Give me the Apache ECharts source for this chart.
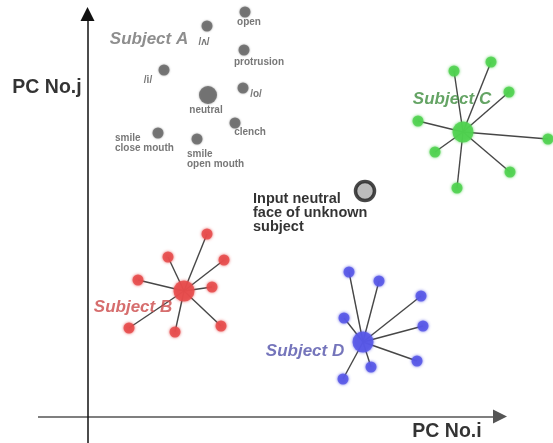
<!DOCTYPE html>
<html>
<head>
<meta charset="utf-8">
<script src="https://cdn.jsdelivr.net/npm/echarts@6/dist/echarts.min.js"></script>
<style>html,body{margin:0;padding:0;background:#fff}#c{width:553px;height:443px}</style>
</head>
<body>
<div id="c"></div>
<script>
// ---- data (picture coordinates) ----
const axisI = [[38, 416.5], [500, 416.5]];
const axisJ = [[87.5, 443], [87.5, 14]];

const subjectAPoints = [[245, 12], [207, 26], [244, 50], [164, 70], [243, 88], [235, 123], [158, 133], [197, 139]];
const subjectANeutral = [208, 95];
const subjectALabels = ['open', '/ʌ/', 'protrusion', '/i/', '/o/', 'neutral', 'clench', 'smile\nclose mouth', 'smile\nopen mouth'];
const subjectALabelPos = [[249, 22], [204, 42], [259, 62], [148, 80], [256, 94], [206, 110], [250, 132], [115, 143], [187, 159]];

const centerB = [184, 291];
const satB = [[207, 234], [168, 257], [224, 260], [138, 280], [212, 287], [129, 328], [175, 332], [221, 326]];
const centerC = [463, 132];
const satC = [[454, 71], [491, 62], [509, 92], [418, 121], [548, 139], [435, 152], [510, 172], [457, 188]];
const centerD = [363, 342];
const satD = [[349, 272], [379, 281], [421, 296], [344, 318], [423, 326], [417, 361], [371, 367], [343, 379]];

const subjectNames = ['Subject A', 'Subject B', 'Subject C', 'Subject D'];
const subjectNamePos = [[149, 39], [133, 307], [452, 99], [305, 351]];

const inputPoint = [365, 191];
const inputText = 'Input neutral\nface of unknown\nsubject';
const inputTextPos = [253, 213];

const axisTitles = ['PC No.j', 'PC No.i'];
const axisTitlePos = [[47, 88], [447, 432]];

// ---- chart ----
const FONT = '"Liberation Sans", Arial, Helvetica, sans-serif';
function spokes(c, sats) { return sats.map(s => ({ coords: [c, s] })); }
function cluster(c, sats, color) {
  return [
    { type: 'scatter', data: sats, symbolSize: 11, silent: true,
      itemStyle: { color: color, opacity: 0.85, shadowBlur: 3, shadowColor: color } },
    { type: 'scatter', data: [c], symbolSize: 21, silent: true,
      itemStyle: { color: color, opacity: 0.85, shadowBlur: 3, shadowColor: color } }
  ];
}
const subjectColors = ['#727272', '#cc4a4a', '#3f8d3f', '#5252aa'];

const chart = echarts.init(document.getElementById('c'), null, { renderer: 'canvas' });
chart.setOption({
  animation: false,
  backgroundColor: '#fff',
  grid: { left: 0, right: 0, top: 0, bottom: 0 },
  xAxis: { type: 'value', min: 0, max: 553, show: false },
  yAxis: { type: 'value', min: 0, max: 443, inverse: true, show: false },
  series: [
    ...cluster(centerB, satB, '#e64b4b'),
    ...cluster(centerC, satC, '#4fd14f'),
    ...cluster(centerD, satD, '#5757e6'),
    { type: 'lines', coordinateSystem: 'cartesian2d', silent: true,
      data: [...spokes(centerB, satB), ...spokes(centerC, satC), ...spokes(centerD, satD)],
      lineStyle: { color: '#333', width: 1.4, opacity: 0.9 } },
    { type: 'lines', coordinateSystem: 'cartesian2d', silent: true,
      symbol: ['none', 'triangle'], symbolSize: [9, 14],
      data: [{ coords: axisI, lineStyle: { color: '#555' } }, { coords: axisJ, lineStyle: { color: '#111' } }],
      lineStyle: { width: 1.5, opacity: 1 }, itemStyle: {} },
    { type: 'scatter', data: subjectAPoints, symbolSize: 11, silent: true,
      itemStyle: { color: '#666', shadowBlur: 2, shadowColor: '#888' } },
    { type: 'scatter', data: [subjectANeutral], symbolSize: 18, silent: true,
      itemStyle: { color: '#666', shadowBlur: 2, shadowColor: '#888' } },
    { type: 'scatter', data: [inputPoint], symbolSize: 19, silent: true,
      itemStyle: { color: '#aaaaaa', borderColor: '#1a1a1a', borderWidth: 3.5 } },
    { type: 'scatter', symbolSize: 0, silent: true,
      data: subjectALabels.map((t, i) => ({ value: subjectALabelPos[i],
        label: { formatter: t, align: t.indexOf('\n') >= 0 ? 'left' : 'center' } })),
      label: { show: true, position: 'inside', verticalAlign: 'middle', color: '#555',
        fontFamily: FONT, fontWeight: 'bold', fontSize: 10, lineHeight: 10 } },
    { type: 'scatter', symbolSize: 0, silent: true,
      data: subjectNames.map((t, i) => ({ value: subjectNamePos[i],
        label: { formatter: t, color: subjectColors[i] } })),
      label: { show: true, position: 'inside', align: 'center', verticalAlign: 'middle',
        fontFamily: FONT, fontWeight: 'bold', fontStyle: 'italic', fontSize: 17 } },
    { type: 'scatter', symbolSize: 0, silent: true,
      data: [{ value: inputTextPos, label: { formatter: inputText } }],
      label: { show: true, position: 'inside', align: 'left', verticalAlign: 'middle', color: '#000',
        fontFamily: FONT, fontWeight: 'bold', fontSize: 14.5, lineHeight: 14 } },
    { type: 'scatter', symbolSize: 0, silent: true,
      data: axisTitles.map((t, i) => ({ value: axisTitlePos[i], label: { formatter: t } })),
      label: { show: true, position: 'inside', align: 'center', verticalAlign: 'middle', color: '#000',
        fontFamily: FONT, fontWeight: 'bold', fontSize: 19.5 } }
  ]
});
</script>
</body>
</html>
